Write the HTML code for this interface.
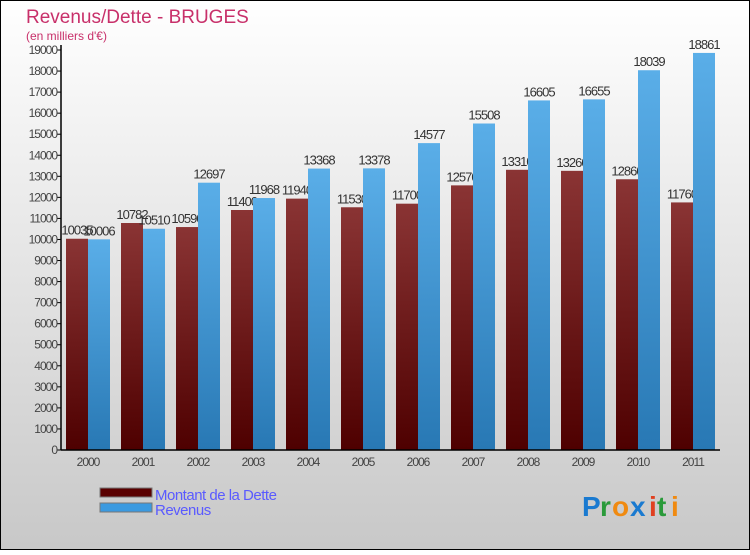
<!DOCTYPE html>
<html><head><meta charset="utf-8"><style>
html,body{margin:0;padding:0}
body{width:750px;height:550px;overflow:hidden;font-family:"Liberation Sans",sans-serif}
</style></head><body>
<svg width="750" height="550" xmlns="http://www.w3.org/2000/svg">
<defs>
<linearGradient id="bg" x1="0" y1="0" x2="0" y2="1"><stop offset="0" stop-color="#ffffff"/><stop offset="1" stop-color="#c8c8c8"/></linearGradient>
<linearGradient id="gr" x1="0" y1="0" x2="0" y2="1"><stop offset="0" stop-color="#8a3434"/><stop offset="1" stop-color="#4e0000"/></linearGradient>
<linearGradient id="gb" x1="0" y1="0" x2="0" y2="1"><stop offset="0" stop-color="#5aaee8"/><stop offset="1" stop-color="#2878b4"/></linearGradient>
</defs>
<rect x="0.5" y="0.5" width="749" height="549" fill="url(#bg)" stroke="#000"/>
<text x="26" y="23" font-size="19" fill="#c8306a">Revenus/Dette - BRUGES</text>
<text x="26" y="40" font-size="12" fill="#c8306a">(en milliers d'€)</text>
<g id="plot"></g>
<g>
<rect x="100" y="488" width="52" height="9" fill="#5a0000" stroke="#777"/>
<text x="155" y="500" font-size="15" fill="#5a5aff" letter-spacing="-0.5">Montant de la Dette</text>
<rect x="100" y="503" width="52" height="9" fill="#3b9ae0" stroke="#777"/>
<text x="155" y="515" font-size="15" fill="#5a5aff" letter-spacing="-0.5">Revenus</text>
</g>
<g font-size="28" font-weight="bold">
<text x="582" y="516" fill="#1a7ad0">P</text><text x="600" y="516" fill="#2a9a3a">r</text><text x="612" y="516" fill="#f08a10">o</text><text x="630" y="516" fill="#1a7ad0">x</text><text x="649" y="516" fill="#e04020">i</text><text x="657" y="516" fill="#2a9a3a">t</text><text x="671" y="516" fill="#f08a10">i</text>
</g>
</svg>
<script>
const years=["2000","2001","2002","2003","2004","2005","2006","2007","2008","2009","2010","2011"];
const dette=[10035,10782,10590,11400,11940,11530,11700,12570,13310,13260,12860,11760];
const revenus=[10006,10510,12697,11968,13368,13378,14577,15508,16605,16655,18039,18861];
const yTicks=[0,1000,2000,3000,4000,5000,6000,7000,8000,9000,10000,11000,12000,13000,14000,15000,16000,17000,18000,19000];
const NS="http://www.w3.org/2000/svg";
const g=document.getElementById('plot');
const y0=450,yTop=50,yMax=19000,x0=61,pitch=55,bw=22;
const yS=v=>y0-(v/yMax)*(y0-yTop);
const xS=i=>x0+5+i*pitch;
function mk(t,a){const e=document.createElementNS(NS,t);for(const k in a)e.setAttribute(k,a[k]);g.appendChild(e);return e;}
yTicks.forEach(v=>{
 const t=mk('line',{x1:x0-4,x2:x0,y1:yS(v),y2:yS(v),stroke:'#000'});
 
 
 const l=mk('text',{x:x0-4,y:yS(v)+4,'font-size':12,fill:'#444','text-anchor':'end','letter-spacing':'-1'});
 l.textContent=v;
 
 
});
years.forEach((yr,i)=>{
 const r=mk('rect',{x:xS(i),y:yS(dette[i]),width:bw,height:y0-yS(dette[i]),fill:'url(#gr)'});
 
 
 const l=mk('text',{x:xS(i)+bw/2,y:yS(dette[i])-4,'font-size':13,fill:'#333','text-anchor':'middle','letter-spacing':'-1'});
 l.textContent=dette[i];
 
 
});
years.forEach((yr,i)=>{
 const b=mk('rect',{x:xS(i)+bw,y:yS(revenus[i]),width:bw,height:y0-yS(revenus[i]),fill:'url(#gb)'});
 
 
 const l=mk('text',{x:xS(i)+bw+bw/2,y:yS(revenus[i])-4,'font-size':13,fill:'#333','text-anchor':'middle','letter-spacing':'-1'});
 l.textContent=revenus[i];
 
 
 const xl=mk('text',{x:xS(i)+bw,y:466,'font-size':12,fill:'#444','text-anchor':'middle','letter-spacing':'-1'});
 xl.textContent=yr;
 
 
});
const ya=mk('line',{x1:x0,x2:x0,y1:45,y2:y0,stroke:'#000','stroke-width':1.5});


const xa=mk('line',{x1:x0,x2:720,y1:y0,y2:y0,stroke:'#000','stroke-width':1.5});


</script>
</body></html>
